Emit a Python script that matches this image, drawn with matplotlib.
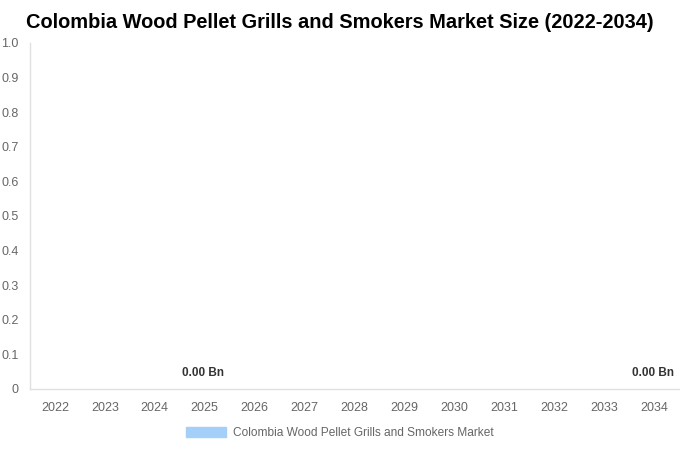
import numpy as np
import matplotlib.pyplot as plt
from matplotlib.patches import Patch

plt.rcParams['font.family'] = ['Liberation Sans', 'DejaVu Sans']

years = ["2022", "2023", "2024", "2025", "2026", "2027", "2028",
         "2029", "2030", "2031", "2032", "2033", "2034"]
market = [0.0, 0.0, 0.0, 0.0, 0.0, 0.0, 0.0,
          0.0, 0.0, 0.0, 0.0, 0.0, 0.0]
labeled_years = ["2025", "2034"]
series_name = "Colombia Wood Pellet Grills and Smokers Market"
bar_color = "#a3cff8"

fig = plt.figure(figsize=(6.8, 4.5), dpi=100)
ax = fig.add_axes([0.0441, 0.1356, 0.9544, 0.7689])

x = np.arange(len(years))
ax.bar(x, market, 0.6, color=bar_color)

for i, yr in enumerate(years):
    if yr in labeled_years:
        ax.annotate("%.2f Bn" % market[i], (x[i], market[i]),
                    xytext=(-1, 7), textcoords="offset points",
                    ha="center", va="bottom", fontsize=8.5,
                    fontweight="bold", color="#333333")

ax.set_xlim(-0.5, len(years) - 0.5)
ax.set_ylim(0, 1.0)
ax.set_xticks(x)
ax.set_xticklabels(years)
yt = np.round(np.arange(0, 1.01, 0.1), 1)
ax.set_yticks(yt)
ax.set_yticklabels(["0"] + ["%.1f" % v for v in yt[1:]])
ax.tick_params(axis="both", length=0, labelsize=9, labelcolor="#666666")
ax.tick_params(axis="x", pad=9.5)
ax.tick_params(axis="y", pad=8)

for s in ["top", "right"]:
    ax.spines[s].set_visible(False)
for s in ["left", "bottom"]:
    ax.spines[s].set_color("#e0e0e0")
    ax.spines[s].set_linewidth(1)

fig.suptitle("Colombia Wood Pellet Grills and Smokers Market Size (2022-2034)",
             x=0.5, y=0.97, fontsize=14.4, fontweight="bold", color="#000000")

fig.legend(handles=[Patch(color=bar_color, label=series_name)],
           loc="center", bbox_to_anchor=(0.5, 0.037), frameon=False,
           fontsize=8.6, labelcolor="#666666", handlelength=3.35,
           handleheight=0.9, handletextpad=0.55)

fig.savefig("out.png", dpi=100)
